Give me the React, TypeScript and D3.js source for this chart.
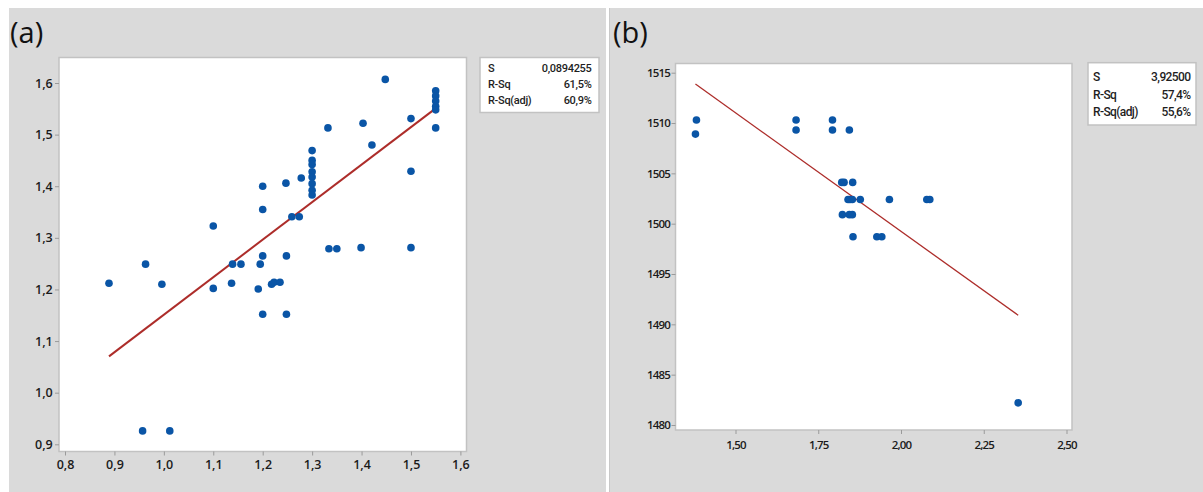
import { useEffect, useRef } from "react";
import * as d3 from "d3";

// panel (a) data
const aX = [
  1.448, 1.55, 1.55, 1.55, 1.55, 1.55, 1.55, 1.5, 1.5, 1.5, 1.403, 1.421, 1.332,
  1.3, 1.3, 1.3, 1.3, 1.3, 1.3, 1.3, 1.3, 1.278, 1.247, 1.2, 1.2, 1.259, 1.274, 1.1,
  1.334, 1.35, 1.399, 0.889, 0.963, 0.996, 1.1, 1.139, 1.156, 1.137, 1.195, 1.2,
  1.191, 1.218, 1.223, 1.235, 1.248, 1.2, 1.248, 0.957, 1.012,
];
const aY = [
  1.607, 1.585, 1.575, 1.565, 1.555, 1.548, 1.513, 1.531, 1.429, 1.281, 1.522, 1.48, 1.513,
  1.469, 1.45, 1.442, 1.428, 1.418, 1.405, 1.392, 1.383, 1.416, 1.406, 1.4, 1.355, 1.341, 1.341, 1.323,
  1.279, 1.279, 1.281, 1.212, 1.249, 1.21, 1.202, 1.249, 1.249, 1.212, 1.249, 1.265,
  1.201, 1.21, 1.214, 1.214, 1.265, 1.152, 1.152, 0.926, 0.926,
];
const aXTicks = [0.8, 0.9, 1.0, 1.1, 1.2, 1.3, 1.4, 1.5, 1.6];
const aYTicks = [0.9, 1.0, 1.1, 1.2, 1.3, 1.4, 1.5, 1.6];
const aFit = [0.424, 0.727]; // intercept, slope
const aStatNames = ["S", "R-Sq", "R-Sq(adj)"];
const aStatValues = ["0,0894255", "61,5%", "60,9%"];

// panel (b) data
const bX = [
  1.382, 1.379, 1.683, 1.683, 1.793, 1.793, 1.844, 1.821, 1.828, 1.854,
  1.84, 1.846, 1.853, 1.877, 1.965, 2.078, 2.087, 1.823, 1.844, 1.853,
  1.855, 1.927, 1.942, 2.354,
];
const bY = [
  1510.3, 1508.9, 1510.3, 1509.3, 1510.3, 1509.3, 1509.3, 1504.1, 1504.1, 1504.1,
  1502.4, 1502.4, 1502.4, 1502.4, 1502.4, 1502.4, 1502.4, 1500.9, 1500.9, 1500.9,
  1498.7, 1498.7, 1498.7, 1482.2,
];
const bXTicks = [1.5, 1.75, 2.0, 2.25, 2.5];
const bYTicks = [1480, 1485, 1490, 1495, 1500, 1505, 1510, 1515];
const bFit = [1546.36, -23.56];
const bStatNames = ["S", "R-Sq", "R-Sq(adj)"];
const bStatValues = ["3,92500", "57,4%", "55,6%"];

const comma = (digits) => (d) => d.toFixed(digits).replace(".", ",");

const panels = [
  {
    tag: "(a)", tagX: 10, tagY: 43,
    bg: [9, 8, 606, 492],
    frame: [59, 57.5, 466.5, 451.5],
    xs: aX, ys: aY, xTicks: aXTicks, yTicks: aYTicks,
    xDomain: [0.8, 1.6], xRange: [65, 460.4],
    yDomain: [0.9, 1.6], yRange: [444.3, 83],
    xFmt: comma(1), yFmt: comma(1),
    xPad: 5, yPad: 2.3, tickFont: 12.5, tickWeight: 600, tickSpacing: 0,
    fit: aFit, fitWidth: 2,
    names: aStatNames, values: aStatValues,
    legend: [480, 57.5, 599, 112.5], rowY: [68.3, 84.3, 100], textX: 488, valueX: 591.5,
    legendFont: 11, legendSpacing: -0.3,
  },
  {
    tag: "(b)", tagX: 613, tagY: 43,
    bg: [609, 8, 1203, 492],
    frame: [675.5, 63.5, 1072, 430],
    xs: bX, ys: bY, xTicks: bXTicks, yTicks: bYTicks,
    xDomain: [1.5, 2.5], xRange: [735.5, 1066.5],
    yDomain: [1480, 1515], yRange: [425, 72.7],
    xFmt: comma(2), yFmt: (d) => String(d),
    xPad: 7, yPad: 1.5, tickFont: 11.5, tickWeight: 600, tickSpacing: -0.8,
    fit: bFit, fitWidth: 1.3,
    names: bStatNames, values: bStatValues,
    legend: [1088, 62.7, 1196, 125], rowY: [76.7, 94.3, 111.7], textX: 1093, valueX: 1190.5,
    legendFont: 12, legendSpacing: -0.6,
  },
];

function drawPanel(svg, p) {
  const g = svg.append("g");
  const [bx0, by0, bx1, by1] = p.bg;
  g.append("rect")
    .attr("x", bx0).attr("y", by0)
    .attr("width", bx1 - bx0).attr("height", by1 - by0)
    .attr("fill", "#dadada");

  g.append("text")
    .attr("x", p.tagX).attr("y", p.tagY)
    .attr("font-family", "'Open Sans', sans-serif")
    .attr("font-size", 29)
    .attr("fill", "#111")
    .text(p.tag);

  const [fx0, fy0, fx1, fy1] = p.frame;
  g.append("rect")
    .attr("x", fx0).attr("y", fy0)
    .attr("width", fx1 - fx0).attr("height", fy1 - fy0)
    .attr("fill", "#fff")
    .attr("stroke", "#c2c2c2")
    .attr("stroke-width", 1.5);

  const x = d3.scaleLinear().domain(p.xDomain).range(p.xRange);
  const y = d3.scaleLinear().domain(p.yDomain).range(p.yRange);

  const xAxis = g.append("g")
    .attr("transform", `translate(0,${fy1})`)
    .call(d3.axisBottom(x).tickValues(p.xTicks).tickSize(4).tickPadding(p.xPad).tickFormat(p.xFmt));
  const yAxis = g.append("g")
    .attr("transform", `translate(${fx0},0)`)
    .call(d3.axisLeft(y).tickValues(p.yTicks).tickSize(4).tickPadding(p.yPad).tickFormat(p.yFmt));

  [xAxis, yAxis].forEach((ax) => {
    ax.select(".domain").remove();
    ax.selectAll("line").attr("stroke", "#9a9a9a");
    ax.selectAll("text")
      .attr("fill", "#1a1a1a")
      .attr("font-family", "'Open Sans', sans-serif")
      .attr("font-size", p.tickFont)
      .attr("font-weight", p.tickWeight)
      .attr("letter-spacing", p.tickSpacing);
  });

  // fitted line spans the observed x range
  const xMin = d3.min(p.xs), xMax = d3.max(p.xs);
  const line = d3.line().x((d) => x(d)).y((d) => y(p.fit[0] + p.fit[1] * d));
  g.append("path")
    .attr("d", line([xMin, xMax]))
    .attr("fill", "none")
    .attr("stroke", "#ad2d2a")
    .attr("stroke-width", p.fitWidth);

  g.append("g")
    .selectAll("circle")
    .data(p.xs.map((d, i) => [d, p.ys[i]]))
    .join("circle")
    .attr("cx", (d) => x(d[0]))
    .attr("cy", (d) => y(d[1]))
    .attr("r", 3.8)
    .attr("fill", "#0a55a6");

  const [lx0, ly0, lx1, ly1] = p.legend;
  g.append("rect")
    .attr("x", lx0).attr("y", ly0)
    .attr("width", lx1 - lx0).attr("height", ly1 - ly0)
    .attr("fill", "#fff")
    .attr("stroke", "#c2c2c2")
    .attr("stroke-width", 1.5);

  const rows = g.append("g")
    .attr("font-family", "Roboto, sans-serif")
    .attr("font-size", p.legendFont)
    .attr("font-weight", 500)
    .attr("letter-spacing", p.legendSpacing)
    .attr("fill", "#1e1e1e");
  p.names.forEach((n, i) => {
    rows.append("text").attr("x", p.textX).attr("y", p.rowY[i]).attr("dy", "0.35em").text(n);
    rows.append("text")
      .attr("x", p.valueX).attr("y", p.rowY[i]).attr("dy", "0.35em")
      .attr("text-anchor", "end")
      .text(p.values[i]);
  });
}

export default function App() {
  const ref = useRef(null);

  useEffect(() => {
    const svg = d3.select(ref.current);
    svg.selectAll("*").remove();
    svg.append("rect").attr("width", 1203).attr("height", 492).attr("fill", "#fff");
    panels.forEach((p) => drawPanel(svg, p));
    svg.append("line")
      .attr("x1", 609.5).attr("x2", 609.5).attr("y1", 8).attr("y2", 492)
      .attr("stroke", "#c8c8c8");
  }, []);

  return (
    <svg
      ref={ref}
      width={1203}
      height={492}
      style={{ position: "absolute", left: 0, top: 0, display: "block" }}
    />
  );
}
